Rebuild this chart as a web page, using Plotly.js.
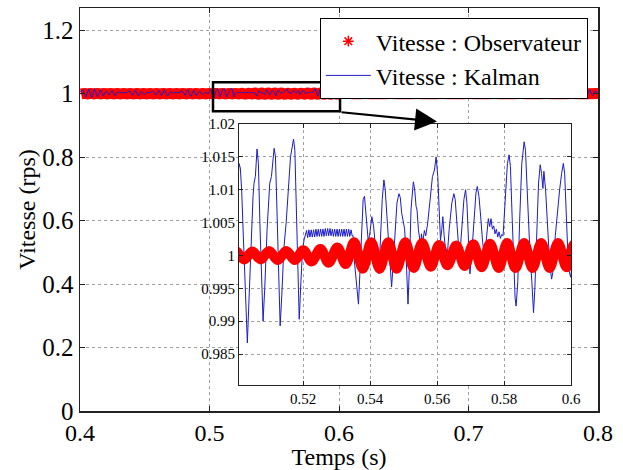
<!DOCTYPE html>
<html>
<head>
<meta charset="utf-8">
<script src="https://cdn.plot.ly/plotly-3.0.1.min.js"></script>
<style>html,body{margin:0;padding:0;background:#fff;}#chart{width:623px;height:470px;}</style>
</head>
<body>
<div id="chart"></div>
<script>
// ---- Data ----
const seriesNames = ["Vitesse : Observateur", "Vitesse : Kalman"];
const xTickVals = [0.4, 0.5, 0.6, 0.7, 0.8];
const yTickVals = [0, 0.2, 0.4, 0.6, 0.8, 1, 1.2];
const yTickText = ["0", "0.2", "0.4", "0.6", "0.8", "1", "1.2"];
const insetXTickVals = [0.52, 0.54, 0.56, 0.58, 0.6];
const insetYTickVals = [0.985, 0.99, 0.995, 1, 1.005, 1.01, 1.015, 1.02];
const insetYTickText = ["0.985", "0.99", "0.995", "1", "1.005", "1.01", "1.015", "1.02"];

// Observer speed (rps): [time s, value]
const observateur = [
 [0.4008,0.9993],[0.4033,1.0007],[0.4058,0.9993],[0.4084,1.0007],[0.4109,0.9993],[0.4134,1.0007],[0.4160,0.9993],[0.4185,1.0007],
 [0.4210,0.9993],[0.4236,1.0007],[0.4261,0.9993],[0.4287,1.0007],[0.4312,0.9993],[0.4338,1.0007],[0.4363,0.9993],[0.4388,1.0007],
 [0.4414,0.9993],[0.4439,1.0007],[0.4464,0.9993],[0.4490,1.0007],[0.4515,0.9993],[0.4541,1.0007],[0.4566,0.9993],[0.4592,1.0007],
 [0.4617,0.9993],[0.4642,1.0007],[0.4668,0.9993],[0.4693,1.0007],[0.4718,0.9993],[0.4744,1.0007],[0.4769,0.9993],[0.4795,1.0007],
 [0.4820,0.9993],[0.4846,1.0007],[0.4871,0.9993],[0.4896,1.0007],[0.4922,0.9993],[0.4947,1.0007],[0.4972,0.9993],
 [0.4998,1.0007],[0.5023,0.9994],[0.5048,1.0006],[0.5073,0.9994],[0.5098,1.0007],[0.5124,0.9993],[0.5149,1.0007],[0.5175,0.9993],
 [0.5200,1.0008],[0.5225,0.9991],[0.5251,1.0010],[0.5276,0.9989],[0.5302,1.0012],[0.5327,0.9987],[0.5352,1.0020],[0.5378,0.9980],
 [0.5403,1.0020],[0.5428,0.9980],[0.5454,1.0020],[0.5479,0.9980],[0.5505,1.0020],[0.5530,0.9981],[0.5555,1.0019],[0.5581,0.9983],
 [0.5606,1.0016],[0.5631,0.9985],[0.5657,1.0015],[0.5682,0.9984],[0.5708,1.0017],[0.5733,0.9982],[0.5758,1.0018],[0.5784,0.9981],
 [0.5809,1.0019],[0.5834,0.9981],[0.5860,1.0019],[0.5885,0.9981],[0.5911,1.0019],[0.5936,0.9981],[0.5961,1.0019],[0.5987,0.9982],
 [0.6012,1.0018],[0.6100,0.9997],[0.6200,1.0004],[0.6300,0.9996],[0.6400,1.0003],[0.6500,0.9998],[0.6600,1.0004],[0.6700,0.9997],
 [0.6800,1.0003],[0.6900,0.9996],[0.7000,1.0004],[0.7100,0.9997],[0.7200,1.0003],[0.7300,0.9996],[0.7400,1.0004],[0.7500,0.9997],
 [0.7600,1.0003],[0.7700,0.9996],[0.7800,1.0004],[0.7900,0.9997],[0.8000,1.0002]
];

// Kalman speed (rps): [time s, value]
const kalman = [
 [0.4000,1.004],[0.4022,1.013],[0.4045,0.989],[0.4068,1.015],[0.4090,0.987],[0.4112,1.016],[0.4135,0.990],[0.4158,1.012],
 [0.4180,0.993],[0.4202,1.008],[0.4225,0.996],[0.4248,1.010],[0.4270,0.994],[0.4292,1.006],[0.4315,1.003],[0.4338,1.004],
 [0.4360,1.003],[0.4382,1.009],[0.4405,0.995],[0.4428,1.011],[0.4450,0.993],[0.4472,1.007],[0.4495,0.997],[0.4518,1.004],
 [0.4540,1.003],[0.4562,1.008],[0.4585,0.996],[0.4608,1.010],[0.4630,0.994],[0.4652,1.012],[0.4675,0.992],[0.4698,1.006],
 [0.4720,1.002],[0.4742,1.004],[0.4765,1.003],[0.4788,1.009],[0.4810,0.995],[0.4832,1.013],[0.4855,0.991],[0.4878,1.011],
 [0.4900,0.994],[0.4922,1.008],[0.4945,0.997],[0.4968,1.006],[0.4990,0.999],
 [0.5000,1.0060],[0.5004,1.0105],[0.5008,1.0140],[0.5012,1.0133],[0.5016,1.0100],[0.5021,1.0030],[0.5026,0.9950],[0.5030,0.9890],
 [0.5033,0.9867],[0.5037,0.9920],[0.5043,1.0010],[0.5050,1.0090],[0.5053,1.0110],[0.5057,1.0120],[0.5062,1.0162],[0.5066,1.0140],
 [0.5071,1.0040],[0.5076,0.9950],[0.5080,0.9900],[0.5085,0.9950],[0.5092,1.0040],[0.5100,1.0110],[0.5105,1.0120],[0.5113,1.0163],
 [0.5117,1.0150],[0.5122,1.0060],[0.5127,0.9960],[0.5131,0.9893],[0.5136,0.9940],[0.5142,1.0010],[0.5149,1.0050],[0.5155,1.0090],
 [0.5162,1.0150],[0.5171,1.0177],[0.5175,1.0160],[0.5180,1.0060],[0.5184,0.9960],[0.5188,0.9903],[0.5193,0.9960],[0.5198,1.0010],
 [0.5203,1.0025],[0.5206,1.0033],
 [0.5210,1.0038],[0.5213,1.0027],[0.5217,1.0039],[0.5220,1.0028],[0.5224,1.0039],[0.5227,1.0028],[0.5231,1.0039],[0.5234,1.0028],
 [0.5238,1.0040],[0.5241,1.0029],[0.5245,1.0040],[0.5248,1.0029],[0.5252,1.0040],[0.5255,1.0029],[0.5259,1.0040],[0.5262,1.0029],
 [0.5266,1.0041],[0.5269,1.0030],[0.5273,1.0041],[0.5276,1.0030],[0.5280,1.0041],[0.5283,1.0030],[0.5287,1.0040],[0.5290,1.0029],
 [0.5294,1.0040],[0.5297,1.0029],[0.5301,1.0040],[0.5304,1.0029],[0.5308,1.0040],[0.5311,1.0029],[0.5315,1.0040],[0.5318,1.0029],
 [0.5322,1.0040],[0.5325,1.0029],[0.5329,1.0040],[0.5332,1.0029],[0.5336,1.0040],[0.5339,1.0029],[0.5343,1.0039],[0.5346,1.0030],
 [0.5349,1.0030],[0.5353,0.9990],[0.5358,0.9965],[0.5362,0.9935],[0.5365,0.9926],[0.5369,0.9970],[0.5374,1.0040],[0.5379,1.0085],
 [0.5383,1.0090],[0.5387,1.0060],[0.5390,1.0052],[0.5394,1.0023],[0.5398,1.0030],[0.5405,1.0059],[0.5410,1.0045],[0.5415,1.0020],
 [0.5420,0.9990],[0.5426,0.9972],[0.5431,1.0030],[0.5436,1.0085],[0.5441,1.0115],[0.5445,1.0100],[0.5450,1.0060],[0.5455,1.0020],
 [0.5460,0.9975],[0.5464,0.9952],[0.5469,0.9990],[0.5474,1.0040],[0.5480,1.0080],[0.5486,1.0094],[0.5490,1.0088],[0.5494,1.0065],
 [0.5498,1.0055],[0.5503,1.0040],[0.5508,0.9990],[0.5513,0.9926],[0.5517,0.9980],[0.5522,1.0070],[0.5529,1.0112],[0.5533,1.0100],
 [0.5537,1.0075],[0.5540,1.0069],[0.5544,1.0040],[0.5548,1.0020],[0.5551,1.0013],[0.5553,1.0033],[0.5557,1.0020],[0.5562,1.0038],
 [0.5566,1.0030],[0.5572,1.0050],[0.5580,1.0090],[0.5586,1.0120],[0.5592,1.0130],[0.5597,1.0150],[0.5602,1.0120],[0.5606,1.0060],
 [0.5610,1.0023],[0.5614,1.0040],[0.5617,1.0059],[0.5621,1.0030],[0.5625,1.0010],[0.5630,0.9997],[0.5636,1.0040],[0.5644,1.0080],
 [0.5650,1.0094],[0.5654,1.0085],[0.5658,1.0050],[0.5664,1.0015],[0.5669,1.0008],[0.5673,1.0040],[0.5680,1.0085],[0.5685,1.0100],
 [0.5689,1.0080],[0.5694,1.0020],[0.5698,0.9972],[0.5703,1.0000],[0.5710,1.0060],[0.5716,1.0095],[0.5720,1.0105],[0.5725,1.0090],
 [0.5730,1.0060],[0.5736,1.0020],[0.5742,0.9997],[0.5748,1.0030],[0.5753,1.0056],[0.5757,1.0044],[0.5761,1.0056],[0.5765,1.0040],
 [0.5769,1.0045],[0.5773,1.0033],[0.5777,1.0040],[0.5781,1.0028],[0.5785,1.0036],[0.5789,1.0026],[0.5793,1.0032],[0.5797,1.0030],
 [0.5800,1.0060],[0.5805,1.0110],[0.5810,1.0140],[0.5815,1.0153],[0.5819,1.0135],[0.5824,1.0060],[0.5829,0.9980],[0.5833,0.9935],
 [0.5836,0.9923],[0.5841,0.9960],[0.5847,1.0060],[0.5853,1.0140],[0.5860,1.0173],[0.5864,1.0160],[0.5869,1.0100],[0.5874,1.0040],
 [0.5878,0.9997],[0.5883,0.9960],[0.5888,0.9913],[0.5892,0.9950],[0.5897,1.0030],[0.5903,1.0110],[0.5908,1.0138],[0.5912,1.0125],
 [0.5916,1.0102],[0.5919,1.0128],[0.5924,1.0100],[0.5930,1.0040],[0.5936,0.9990],[0.5942,0.9964],[0.5946,0.9975],[0.5953,1.0030],
 [0.5960,1.0070],[0.5966,1.0100],[0.5972,1.0125],[0.5977,1.0140],[0.5981,1.0125],[0.5986,1.0060],[0.5990,1.0010],[0.5995,0.9975],
 [0.5999,0.9967],
 [0.6022,1.006],[0.6045,1.012],[0.6068,0.993],[0.6090,1.010],[0.6112,0.996],[0.6135,1.005],[0.6158,1.003],[0.6180,1.008],
 [0.6202,0.995],[0.6225,1.013],[0.6248,0.990],[0.6270,1.015],[0.6292,0.989],[0.6315,1.016],[0.6338,0.988],[0.6360,1.014],
 [0.6382,0.992],[0.6405,1.011],[0.6428,0.995],[0.6450,1.012],[0.6472,0.993],[0.6495,1.014],[0.6518,0.991],[0.6540,1.010],
 [0.6562,0.997],[0.6585,1.005],[0.6608,1.003],[0.6630,1.004],[0.6652,1.003],[0.6675,1.004],[0.6698,1.003],[0.6720,1.006],
 [0.6742,1.000],[0.6765,1.007],[0.6788,0.998],[0.6810,1.005],[0.6832,1.003],[0.6855,1.004],[0.6878,1.003],[0.6900,1.004],
 [0.6922,1.003],[0.6945,1.008],[0.6968,0.996],[0.6990,1.011],[0.7012,0.993],[0.7035,1.012],[0.7058,0.994],[0.7080,1.009],
 [0.7102,0.997],[0.7125,1.007],[0.7148,1.000],[0.7170,1.011],[0.7192,0.994],[0.7215,1.013],[0.7238,0.992],[0.7260,1.010],
 [0.7282,0.996],[0.7305,1.008],[0.7328,0.998],[0.7350,1.012],[0.7372,0.993],[0.7395,1.015],[0.7418,0.990],[0.7440,1.014],
 [0.7462,0.992],[0.7485,1.010],[0.7508,0.996],[0.7530,1.013],[0.7552,0.991],[0.7575,1.016],[0.7598,0.989],[0.7620,1.012],
 [0.7642,0.994],[0.7665,1.009],[0.7688,0.997],[0.7710,1.014],[0.7732,0.992],[0.7755,1.015],[0.7778,0.990],[0.7800,1.013],
 [0.7822,0.993],[0.7845,1.011],[0.7868,0.995],[0.7890,1.014],[0.7912,0.991],[0.7935,1.012],[0.7958,0.994],[0.7980,1.009],
 [0.8000,0.999]
];

// Zoom window drawn on the main axes, and the arrow [tail -> head]
const zoomBox = {x0: 0.5027, x1: 0.6008, y0: 0.945, y1: 1.036};
const arrowTail = [0.6008, 0.942];
const arrowHead = [0.6757, 0.912];

// ---- Plot ----
const FONT = "Times New Roman, Liberation Serif, Tinos, DejaVu Serif, serif";
const obsX = observateur.map(p => p[0]), obsY = observateur.map(p => p[1]);
const kalX = kalman.map(p => p[0]), kalY = kalman.map(p => p[1]);
const RED = "#ff0000", BLUE = "#1c1cc8";

const traces = [
  {x: obsX, y: obsY, xaxis: "x", yaxis: "y", mode: "lines", line: {color: RED, width: 11, shape: "spline"}, showlegend: false, hoverinfo: "skip"},
  {x: kalX, y: kalY, xaxis: "x", yaxis: "y", mode: "lines", line: {color: BLUE, width: 1}, showlegend: false, hoverinfo: "skip"},
  {x: kalX, y: kalY, xaxis: "x2", yaxis: "y2", mode: "lines", line: {color: BLUE, width: 1}, showlegend: false, hoverinfo: "skip"},
  {x: obsX, y: obsY, xaxis: "x2", yaxis: "y2", mode: "lines", line: {color: RED, width: 10, shape: "spline"}, showlegend: false, hoverinfo: "skip"},
  {x: [null], y: [null], xaxis: "x", yaxis: "y", name: seriesNames[0], mode: "markers",
   marker: {symbol: "asterisk-open", color: RED, size: 9, line: {color: RED, width: 1.5}}},
  {x: [null], y: [null], xaxis: "x", yaxis: "y", name: seriesNames[1], mode: "lines", line: {color: BLUE, width: 1}}
];

const axCommon = {
  showline: true, linecolor: "#222", linewidth: 1, mirror: "ticks",
  ticks: "inside", tickcolor: "#222", zeroline: false,
  showgrid: true, gridcolor: "#a0a0a0", griddash: "dot", gridwidth: 1
};

const layout = {
  width: 623, height: 470,
  margin: {l: 80, r: 25, t: 8, b: 59},
  paper_bgcolor: "#fff", plot_bgcolor: "#fff",
  font: {family: FONT, color: "#000"},
  showlegend: true,
  legend: {x: 0.463, y: 0.975, xanchor: "left", yanchor: "top", bgcolor: "#fff",
           bordercolor: "#000", borderwidth: 1, font: {family: FONT, size: 24}, itemwidth: 45, tracegroupgap: 0},
  xaxis: Object.assign({}, axCommon, {
    range: [0.4, 0.8], tickvals: xTickVals, ticktext: xTickVals.map(String), ticklen: 5, linewidth: 1.5,
    tickfont: {family: FONT, size: 24},
    title: {text: "Temps (s)", font: {family: FONT, size: 24}}
  }),
  yaxis: Object.assign({}, axCommon, {
    range: [0, 1.27], tickvals: yTickVals, ticktext: yTickText, ticklen: 5, linewidth: 1.5,
    tickfont: {family: FONT, size: 25},
    title: {text: "Vitesse (rps)", font: {family: FONT, size: 24}, standoff: 0}
  }),
  xaxis2: Object.assign({}, axCommon, {
    domain: [0.3069, 0.9479], anchor: "y2", range: [0.5008, 0.6],
    tickvals: insetXTickVals, ticktext: insetXTickVals.map(String), ticklen: 4,
    tickfont: {family: FONT, size: 15}
  }),
  yaxis2: Object.assign({}, axCommon, {
    domain: [0.0645, 0.7122], anchor: "x2", range: [0.9803, 1.02],
    tickvals: insetYTickVals, ticktext: insetYTickText, ticklen: 4,
    tickfont: {family: FONT, size: 15}
  }),
  shapes: [
    {type: "rect", xref: "x2 domain", yref: "y2 domain", x0: 0, x1: 1, y0: 0, y1: 1,
     fillcolor: "#fff", line: {width: 0}, layer: "below"},
    {type: "rect", xref: "x", yref: "y", x0: zoomBox.x0, x1: zoomBox.x1, y0: zoomBox.y0, y1: zoomBox.y1,
     line: {color: "#000", width: 2.5}, layer: "above"}
  ],
  annotations: [
    {x: arrowHead[0], y: arrowHead[1], xref: "x", yref: "y", ax: arrowTail[0], ay: arrowTail[1],
     axref: "x", ayref: "y", showarrow: true, arrowhead: 2, arrowsize: 2, arrowwidth: 2.2,
     arrowcolor: "#000", text: ""}
  ]
};

Plotly.newPlot("chart", traces, layout, {staticPlot: true, displayModeBar: false});
</script>
</body>
</html>
